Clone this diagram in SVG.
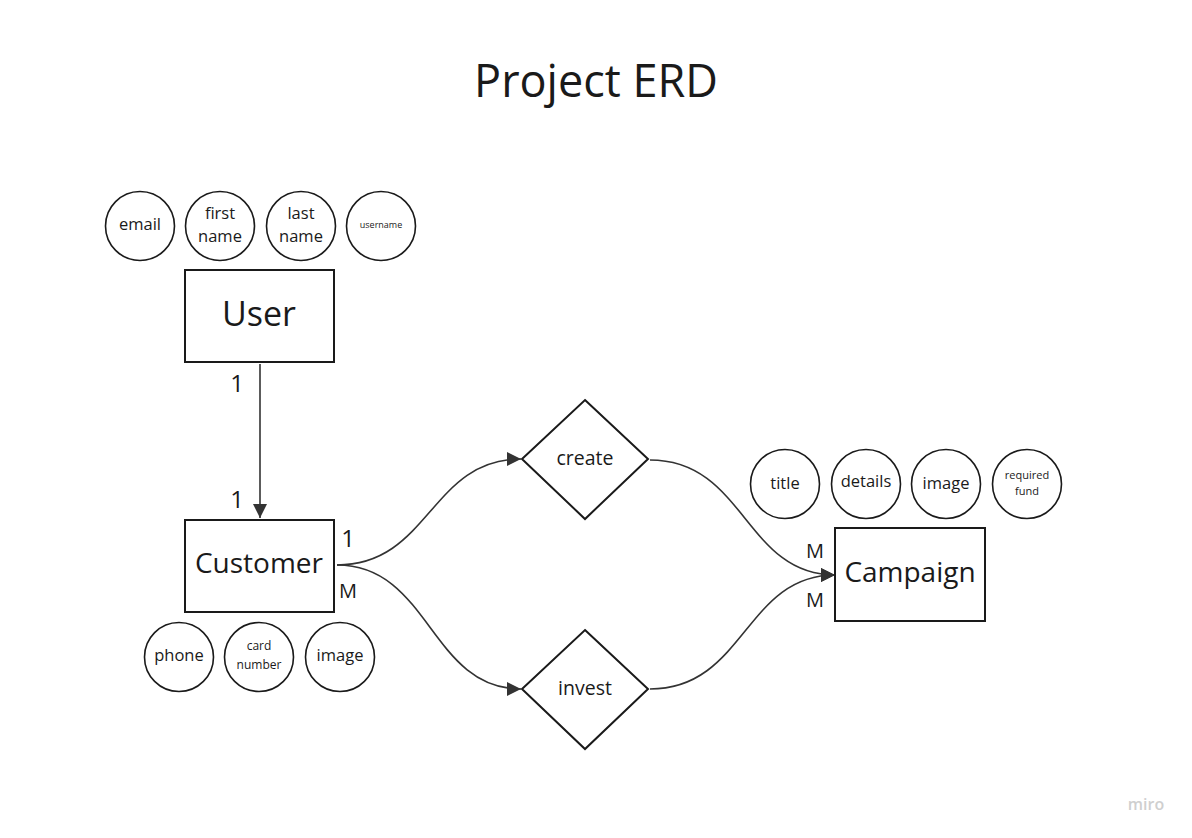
<svg xmlns="http://www.w3.org/2000/svg" width="1192" height="838" viewBox="0 0 1192 838">
<style>
.box{fill:#fff;stroke:#1a1a1a;stroke-width:2}
.attr{fill:#fff;stroke:#1a1a1a;stroke-width:1.6}
.t{font-family:"Open Sans","Noto Sans","Liberation Sans",sans-serif;fill:#1a1a1a;text-anchor:middle}
.conn{fill:none;stroke:#333;stroke-width:1.6}
</style>
<defs>
<marker id="arr2" viewBox="0 0 10 10" refX="10" refY="5" markerWidth="14" markerHeight="14" markerUnits="userSpaceOnUse" orient="auto">
<path d="M0,0 L10,5 L0,10 z" fill="#333"/>
</marker>
</defs>
<rect width="1192" height="838" fill="#fff"/>
<text class="t" x="596" y="97" font-size="45">Project ERD</text>

<g id="connectors">
<path class="conn" d="M260,364 L260,518" marker-end="url(#arr2)"/>
<path class="conn" d="M337,565 C430,565 430,459 521,459" marker-end="url(#arr2)"/>
<path class="conn" d="M337,565 C430,565 430,689 521,689" marker-end="url(#arr2)"/>
<path class="conn" d="M650,460 C745,460 745,575 835,575" marker-end="url(#arr2)"/>
<path class="conn" d="M650,689 C745,689 745,575 835,575" marker-end="url(#arr2)"/>
<text class="t" x="237" y="392" font-size="24">1</text>
<text class="t" x="237" y="508" font-size="24">1</text>
<text class="t" x="348" y="547" font-size="24">1</text>
<text class="t" x="348" y="598" font-size="20">M</text>
<text class="t" x="815" y="558" font-size="20">M</text>
<text class="t" x="815" y="607" font-size="20">M</text>
</g>

<g id="user">
<rect class="box" x="185" y="270" width="149" height="92"/>
<text class="t" x="259" y="326" font-size="34">User</text>
</g>
<g id="customer">
<rect class="box" x="185" y="520" width="149" height="92"/>
<text class="t" x="259" y="573" font-size="28">Customer</text>
</g>
<g id="campaign">
<rect class="box" x="835" y="528" width="150" height="93"/>
<text class="t" x="910" y="582" font-size="28">Campaign</text>
</g>
<g id="create">
<polygon class="box" points="585,400 648,459 585,519 522,459"/>
<text class="t" x="585" y="465" font-size="19.5">create</text>
</g>
<g id="invest">
<polygon class="box" points="585,630 648,689 585,749 522,689"/>
<text class="t" x="585" y="695" font-size="19.5">invest</text>
</g>

<g id="attr-email"><circle class="attr" cx="140" cy="226" r="34.5"/><text class="t" x="140" y="230" font-size="16.5">email</text></g>
<g id="attr-firstname"><circle class="attr" cx="220" cy="226" r="34.5"/><text class="t" x="220" y="219" font-size="16.5">first</text><text class="t" x="220" y="242" font-size="16.5">name</text></g>
<g id="attr-lastname"><circle class="attr" cx="301" cy="226" r="34.5"/><text class="t" x="301" y="219" font-size="16.5">last</text><text class="t" x="301" y="242" font-size="16.5">name</text></g>
<g id="attr-username"><circle class="attr" cx="381" cy="226" r="34.5"/><text class="t" x="381" y="228" font-size="9">username</text></g>

<g id="attr-phone"><circle class="attr" cx="179" cy="657" r="34.5"/><text class="t" x="179" y="661" font-size="16.5">phone</text></g>
<g id="attr-cardnumber"><circle class="attr" cx="259" cy="657" r="34.5"/><text class="t" x="259" y="650" font-size="12">card</text><text class="t" x="259" y="669" font-size="12">number</text></g>
<g id="attr-image-c"><circle class="attr" cx="340" cy="657" r="34.5"/><text class="t" x="340" y="661" font-size="16.5">image</text></g>

<g id="attr-title"><circle class="attr" cx="785" cy="484" r="34.5"/><text class="t" x="785" y="489" font-size="16.5">title</text></g>
<g id="attr-details"><circle class="attr" cx="866" cy="484" r="34.5"/><text class="t" x="866" y="487" font-size="16.5">details</text></g>
<g id="attr-image-p"><circle class="attr" cx="946" cy="484" r="34.5"/><text class="t" x="946" y="489" font-size="16.5">image</text></g>
<g id="attr-requiredfund"><circle class="attr" cx="1027" cy="484" r="34.5"/><text class="t" x="1027" y="479" font-size="11">required</text><text class="t" x="1027" y="495" font-size="11">fund</text></g>

<text class="t" x="1146" y="810" font-size="16" font-weight="600" style="fill:#cfcfcf">miro</text>
</svg>
